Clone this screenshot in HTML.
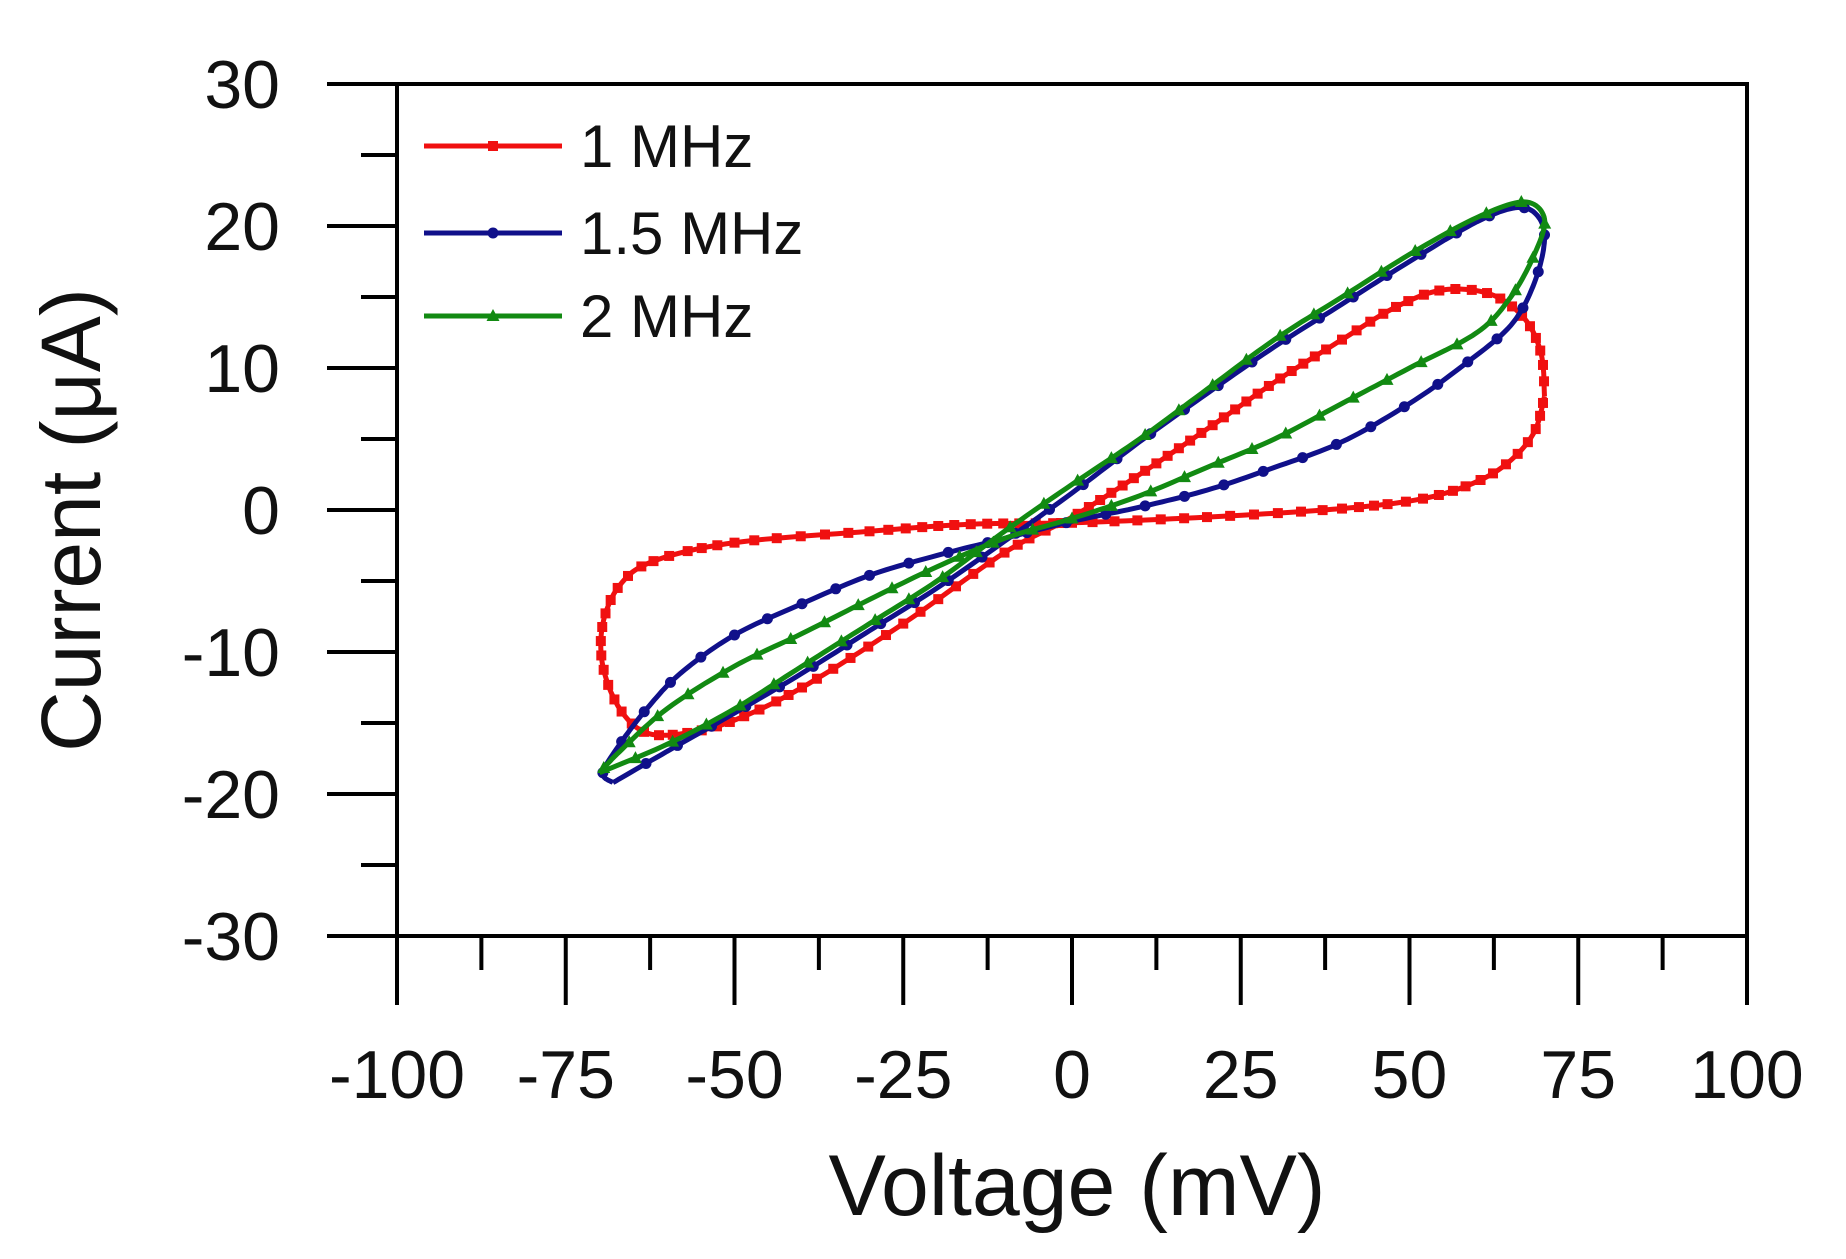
<!DOCTYPE html>
<html><head><meta charset="utf-8"><style>
html,body{margin:0;padding:0;background:#fff;}
svg{display:block;}
text{font-family:"Liberation Sans",Arial,sans-serif;fill:#111;}
</style></head><body>
<svg id="s" width="1846" height="1259" viewBox="0 0 1846 1259" xmlns="http://www.w3.org/2000/svg">
<g id="axes" stroke="#000" stroke-width="4" fill="none"></g>
<g id="data"></g>
<g font-size="68" id="labels"></g>
<text x="1077" y="1215" font-size="86" text-anchor="middle">Voltage (mV)</text>
<text transform="translate(100,520) rotate(-90)" font-size="84" text-anchor="middle">Current (μA)</text>
<g id="legend"></g>
</svg>
<script>
const NS="http://www.w3.org/2000/svg";
function el(t,a,p){const e=document.createElementNS(NS,t);for(const k in a)e.setAttribute(k,a[k]);p.appendChild(e);return e;}
const X=v=>397+(v+100)*6.75, Y=i=>510-i*14.2;
const ax=document.getElementById('axes'),lb=document.getElementById('labels');
el('rect',{x:397,y:84,width:1350,height:852},ax);
for(let i=-30;i<=30;i+=5){const y=Y(i);const maj=i%10==0;el('line',{x1:maj?327:361,y1:y,x2:397,y2:y},ax);
 if(maj){const t=el('text',{x:280,y:y+24,'text-anchor':'end'},lb);t.textContent=i;}}
for(let v=-100;v<=100;v+=12.5){const x=X(v);const maj=v%25==0;el('line',{x1:x,y1:936,x2:x,y2:maj?1005:970},ax);
 if(maj){const t=el('text',{x:x,y:1098,'text-anchor':'middle'},lb);t.textContent=v;}}
function spline(pts,n){const out=[];for(let i=0;i<pts.length-1;i++){const p0=pts[Math.max(0,i-1)],p1=pts[i],p2=pts[i+1],p3=pts[Math.min(pts.length-1,i+2)];
 for(let k=0;k<n;k++){const t=k/n,t2=t*t,t3=t2*t;const f=(a,b,c,d)=>0.5*(2*b+(-a+c)*t+(2*a-5*b+4*c-d)*t2+(-a+3*b-3*c+d)*t3);
 out.push([f(p0[0],p1[0],p2[0],p3[0]),f(p0[1],p1[1],p2[1],p3[1])]);}}out.push(pts[pts.length-1]);return out;}
function draw(data,color,shape,spacing){const g=document.getElementById('data');const pts=spline(data.map(p=>[X(p[0]),Y(p[1])]),12);
 el('path',{d:'M'+pts.map(p=>p[0].toFixed(1)+','+p[1].toFixed(1)).join('L'),stroke:color,'stroke-width':5,fill:'none'},g);
 let acc=0;for(let i=1;i<pts.length;i++){acc+=Math.hypot(pts[i][0]-pts[i-1][0],pts[i][1]-pts[i-1][1]);if(acc>=spacing){acc=0;mk(g,pts[i][0],pts[i][1],color,shape);}}}
function mk(g,x,y,c,s){if(s=='sq')el('rect',{x:x-5,y:y-5,width:10,height:10,fill:c},g);else if(s=='c')el('circle',{cx:x,cy:y,r:5.5,fill:c},g);
 else el('polygon',{points:`${x},${y-7} ${x-6.5},${y+5} ${x+6.5},${y+5}`,fill:c},g);}
const red=[[70,8],[69.5,11],[67,13.5],[62,15.2],[55,15.5],[48,14.3],[40,12],[30,9],[20,5.7],[10,2.5],[0,-0.5],[-10,-3],[-25,-8],[-40,-12.5],[-50,-14.8],[-57,-15.7],[-63,-15.7],[-67,-14],[-69.5,-11],[-69.5,-8],[-67,-5.3],[-62,-3.6],[-50,-2.3],[-30,-1.5],[-15,-1],[0,-0.9],[20,-0.5],[40,0.1],[52,0.8],[60,2],[65,3.5],[68.5,5.5],[70,8]];
const blue=[[-68,-19.2],[-60,-17],[-50,-14.3],[-40,-11.5],[-30,-8.5],[-20,-5.5],[-10,-2.2],[0,1.2],[10,4.8],[20,8.2],[30,11.5],[40,14.5],[50,17.5],[60,20.3],[66,21.3],[69,20.7],[70,19],[68.5,16],[65,13],[58,10.2],[50,7.5],[40,4.8],[30,3],[20,1.4],[10,0.2],[0,-0.8],[-10,-2],[-20,-3.2],[-30,-4.6],[-40,-6.6],[-50,-8.8],[-58,-11.5],[-63,-14],[-67,-16.5],[-69.5,-18.5],[-68,-19.2]];
const green=[[-70,-18.5],[-60,-16.5],[-50,-14],[-40,-11],[-30,-8],[-20,-5],[-10,-1.5],[0,1.8],[10,5],[20,8.5],[30,12],[40,15],[50,18],[60,20.6],[67,21.7],[70,20.5],[68.5,18],[65,15],[60,12.5],[50,10],[40,7.5],[30,5],[20,3],[10,1],[0,-0.6],[-10,-2],[-20,-4],[-30,-6.3],[-40,-8.7],[-50,-11],[-60,-14],[-67,-17],[-70,-18.5]];
draw(red,'#f01010','sq',13);draw(blue,'#10108a','c',36);draw(green,'#128a12','t',36);
const lg=document.getElementById('legend');
[['1 MHz','#f01010','sq',146],['1.5 MHz','#10108a','c',233],['2 MHz','#128a12','t',316]].forEach(([t,c,s,y])=>{
 el('line',{x1:424,y1:y,x2:562,y2:y,stroke:c,'stroke-width':5},lg);mk(lg,493,y,c,s);
 const e=el('text',{x:580,y:y+21,'font-size':60},lg);e.textContent=t;});
</script>
</body></html>
